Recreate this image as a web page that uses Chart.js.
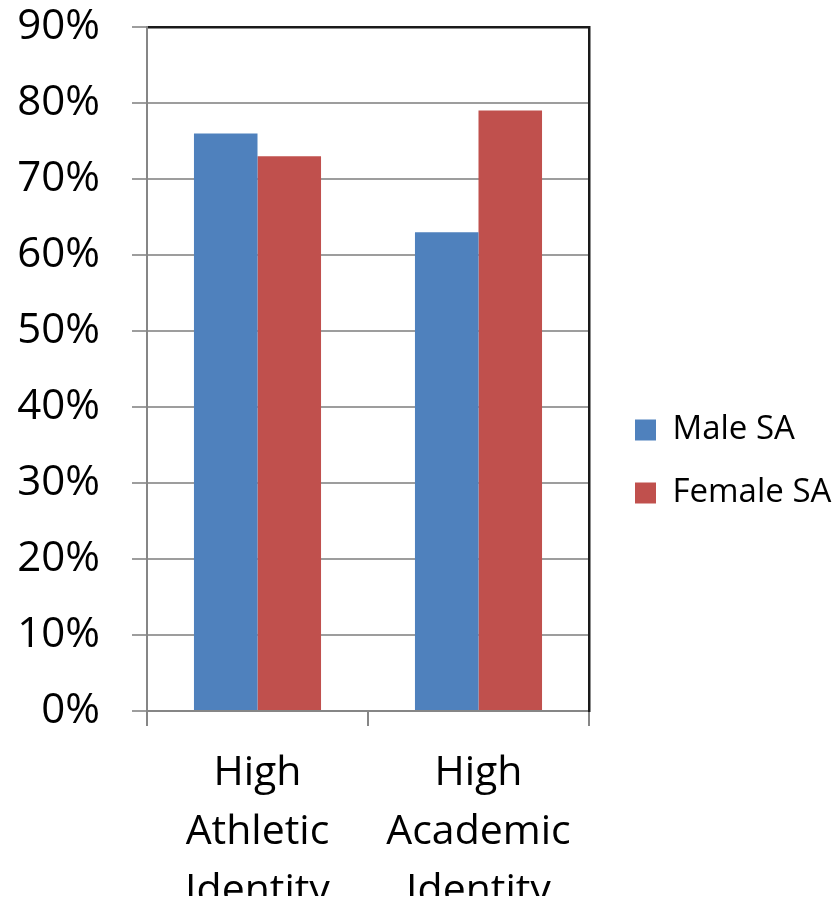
<!DOCTYPE html>
<html>
<head>
<meta charset="utf-8">
<script src="https://cdn.jsdelivr.net/npm/chart.js@4.4.0/dist/chart.umd.min.js"></script>
<style>
  html, body { margin: 0; padding: 0; background: #ffffff; overflow: hidden; }
  #wrap { width: 836px; height: 911px; }
</style>
</head>
<body>
<div id="wrap"><canvas id="c" width="836" height="911"></canvas></div>
<script>
const categories = [["High", "Athletic", "Identity"], ["High", "Academic", "Identity"]];
const seriesNames = ["Male SA", "Female SA"];
const maleValues = [76, 63];
const femaleValues = [73, 79];
const yTickMin = 0, yTickMax = 90, yTickStep = 10;

const FONT = "'Open Sans', 'Noto Sans', 'Liberation Sans', sans-serif";
const AXIS_GRAY = '#868686';

new Chart(document.getElementById('c'), {
  type: 'bar',
  data: {
    labels: categories,
    datasets: [
      { label: seriesNames[0], data: maleValues, backgroundColor: '#4f81bd', categoryPercentage: 0.575, barPercentage: 1.0 },
      { label: seriesNames[1], data: femaleValues, backgroundColor: '#c0504d', categoryPercentage: 0.575, barPercentage: 1.0 }
    ]
  },
  options: {
    responsive: false,
    animation: false,
    layout: { padding: { top: 27, bottom: 15, left: 0, right: 0 } },
    plugins: {
      tooltip: { enabled: false },
      legend: {
        position: 'right',
        maxWidth: 231,
        labels: {
          font: { family: FONT, size: 33 },
          color: '#000000',
          boxWidth: 21,
          boxHeight: 21,
          padding: 30
        }
      }
    },
    scales: {
      x: {
        position: 'bottom',
        grid: { display: true, drawOnChartArea: false, offset: true, tickLength: 15, color: AXIS_GRAY, lineWidth: 2 },
        border: { display: true, color: AXIS_GRAY, width: 2 },
        ticks: { font: { family: FONT, size: 41, lineHeight: 1.44 }, color: '#000000', padding: 18, maxRotation: 0 },
        afterFit: s => { s.height = 185; }
      },
      x2: {
        type: 'category',
        position: 'top',
        grid: { display: false },
        ticks: { display: false },
        border: { display: true, color: '#1a1a1a', width: 2.5 },
        afterFit: s => { s.height = 0; s.paddingLeft = 0; s.paddingRight = 0; }
      },
      y: {
        min: yTickMin,
        max: yTickMax,
        ticks: {
          stepSize: yTickStep,
          callback: v => v + '%',
          font: { family: FONT, size: 42 },
          color: '#000000',
          padding: 32
        },
        grid: { color: '#9d9d9d', lineWidth: 2, tickLength: 15 },
        border: { display: true, color: AXIS_GRAY, width: 2 },
        afterFit: s => { s.width = 147; s.paddingTop = 0; s.paddingBottom = 0; }
      },
      y2: {
        type: 'linear',
        position: 'right',
        grid: { display: false },
        ticks: { display: false },
        border: { display: true, color: '#1a1a1a', width: 2.5 },
        afterFit: s => { s.width = 16; s.paddingTop = 0; s.paddingBottom = 0; }
      }
    }
  }
});
</script>
</body>
</html>
